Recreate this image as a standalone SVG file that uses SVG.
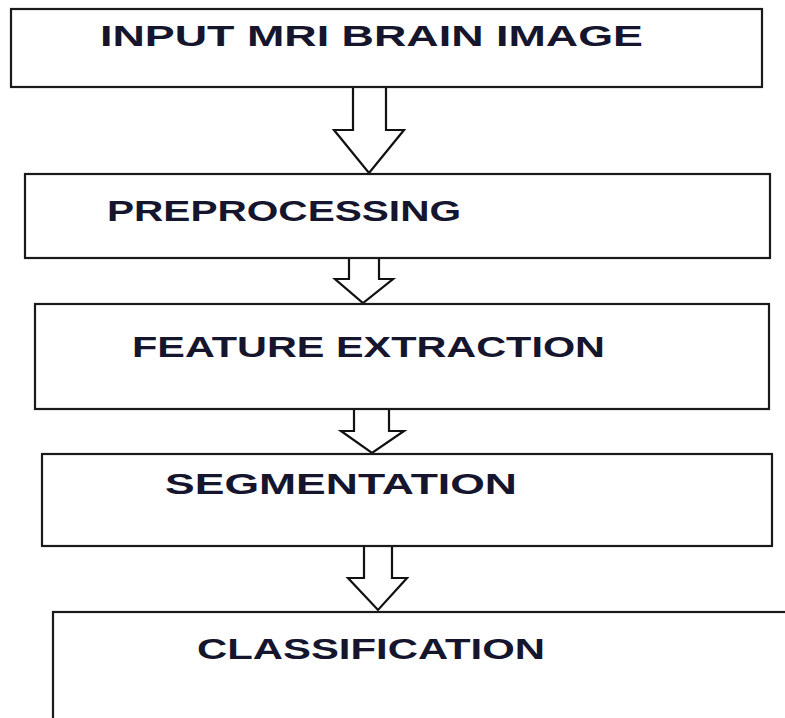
<svg xmlns="http://www.w3.org/2000/svg" width="785" height="718" viewBox="0 0 785 718">
<defs>
<style>
.box{fill:#ffffff;stroke:#1a1a1a;stroke-width:2.2}
.arr{fill:#ffffff;stroke:#111111;stroke-width:2.2;stroke-linejoin:miter}
.lbl{font-family:"Liberation Sans",Arial,sans-serif;font-weight:bold;font-size:29px;fill:#15152e}
</style>
</defs>
<rect width="785" height="718" fill="#ffffff"/>
<g id="connectors">
<path class="arr" d="M353,87 L353,130 L334,130 L369,173 L404,130 L386,130 L386,87"/>
<path class="arr" d="M349,258 L349,279 L335,279 L363,303 L393,279 L379,279 L379,258 Z"/>
<path class="arr" d="M354,409 L354,431 L341,431 L372,453 L404,431 L389,431 L389,409"/>
<path class="arr" d="M364,546 L364,578 L348,578 L378,610 L407,578 L392,578 L392,546"/>
</g>
<g id="node-input">
<rect class="box" x="11" y="9" width="751" height="78"/>
<text class="lbl" x="100" y="46" textLength="543" lengthAdjust="spacingAndGlyphs">INPUT MRI BRAIN IMAGE</text>
</g>
<g id="node-preprocessing">
<rect class="box" x="25" y="174" width="745" height="84"/>
<text class="lbl" x="107" y="221" textLength="354" lengthAdjust="spacingAndGlyphs">PREPROCESSING</text>
</g>
<g id="node-feature">
<rect class="box" x="35" y="304" width="734" height="105"/>
<text class="lbl" x="132" y="357" textLength="473" lengthAdjust="spacingAndGlyphs">FEATURE EXTRACTION</text>
</g>
<g id="node-segmentation">
<rect class="box" x="42" y="454" width="730" height="92"/>
<text class="lbl" x="165" y="494" textLength="352" lengthAdjust="spacingAndGlyphs">SEGMENTATION</text>
</g>
<g id="node-classification">
<rect class="box" x="53" y="612" width="760" height="130"/>
<text class="lbl" x="197" y="659" textLength="348" lengthAdjust="spacingAndGlyphs">CLASSIFICATION</text>
</g>
</svg>
